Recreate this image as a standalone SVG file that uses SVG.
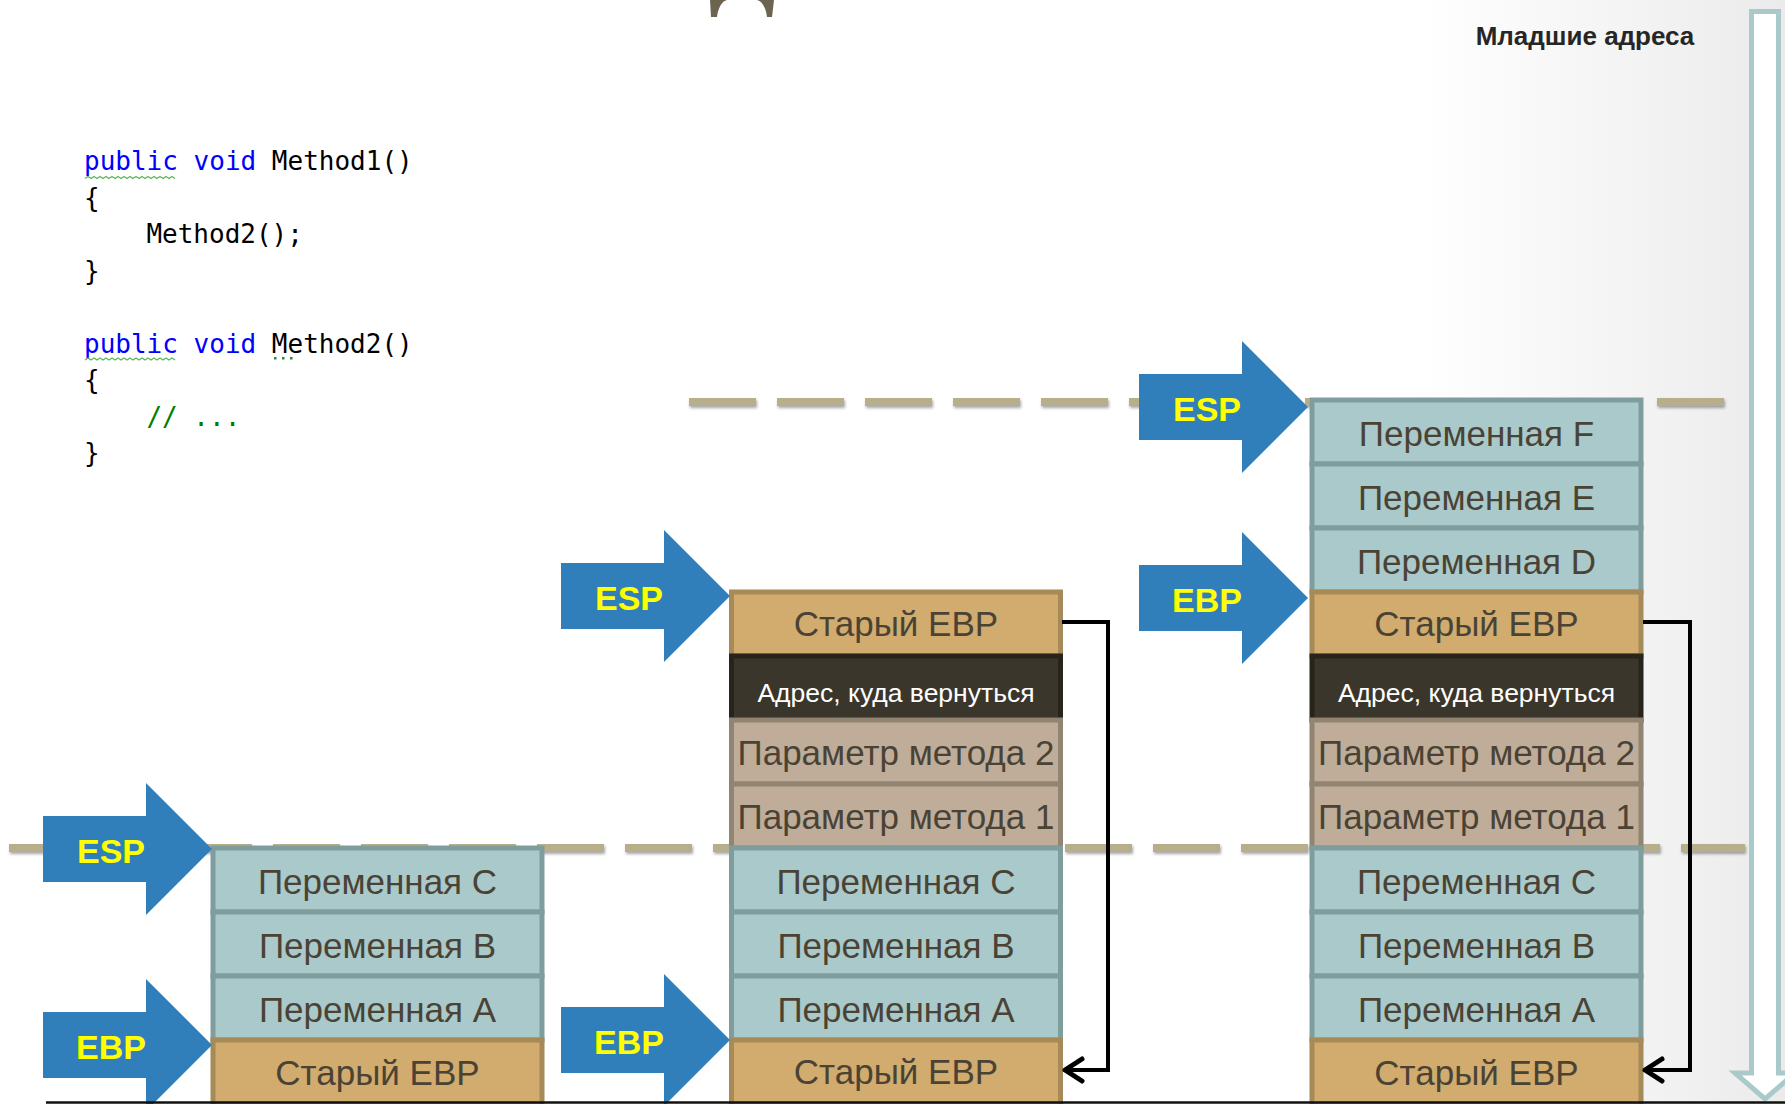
<svg xmlns="http://www.w3.org/2000/svg" width="1785" height="1104" viewBox="0 0 1785 1104">
  <defs>
    <linearGradient id="bgShade" gradientUnits="userSpaceOnUse" x1="1420" y1="0" x2="1785" y2="0">
      <stop offset="0" stop-color="#ffffff"/>
      <stop offset="1" stop-color="#ebebeb"/>
    </linearGradient>
    <filter id="softShadow" filterUnits="userSpaceOnUse" x="0" y="0" width="1785" height="1104">
      <feDropShadow dx="1" dy="2" stdDeviation="1.5" flood-color="#000" flood-opacity="0.35"/>
    </filter>
    <!-- block pointer, tip at the origin -->
    <path id="ptr" d="M-169,-33 H-66 V-66 L0,0 L-66,66 V33 H-169 Z"/>
    <marker id="chev" markerUnits="userSpaceOnUse" markerWidth="30" markerHeight="30" viewBox="0 0 30 30" refX="25" refY="15" orient="auto">
      <path d="M8,4 L25,15 L8,26" fill="none" stroke="#000" stroke-width="5" stroke-linejoin="round" stroke-linecap="round"/>
    </marker>
    <style>
      .dash { fill: none; stroke: #B7AF8C; stroke-width: 8; stroke-dasharray: 67 21; }
      .cv { fill: #AAC9CA; stroke: #809D9E; stroke-width: 5; }
      .ce { fill: #D1AC6E; stroke: #A68A57; stroke-width: 5; }
      .cr { fill: #3A362B; stroke: #28241C; stroke-width: 5; }
      .cp { fill: #BFAD99; stroke: #918473; stroke-width: 5; }
      .tl { font-family: "Liberation Sans", Arial, sans-serif; font-size: 35px; fill: #4A4335; text-anchor: middle; }
      .tr { font-family: "Liberation Sans", Arial, sans-serif; font-size: 26.5px; fill: #FFFFFF; text-anchor: middle; }
      .ptr { fill: #307FBA; }
      .reg { font-family: "Liberation Sans", Arial, sans-serif; font-size: 34px; font-weight: bold; fill: #FFFF00; text-anchor: middle; }
      .code { font-family: "DejaVu Sans Mono", "Liberation Mono", monospace; font-size: 26px; fill: #000; white-space: pre; }
      .kw { fill: #0000FF; }
      .cm { fill: #008000; }
      .squig { fill: none; stroke: #5FB45F; stroke-width: 1.3; }
      .link { fill: none; stroke: #000; stroke-width: 4; marker-end: url(#chev); }
    </style>
  </defs>

  <!-- background -->
  <rect x="0" y="0" width="1785" height="1104" fill="#ffffff"/>
  <rect x="1420" y="0" width="365" height="1104" fill="url(#bgShade)"/>

  <!-- partial arch at the top edge -->
  <path id="top-arch" d="M711,17 L710,0 L774,0 L772,17 L767,17 C766,8 762,1 757,0 L727,0 C722,1 718,8 717,17 Z" fill="#6B6450"/>

  <!-- frame boundary guides -->
  <g id="guides" filter="url(#softShadow)">
    <line class="dash" x1="689" y1="402" x2="1724" y2="402"/>
    <line class="dash" x1="9" y1="848" x2="1745" y2="848"/>
  </g>

  <!-- stack before the call -->
  <g id="stack-1">
    <g id="s1-var-c"><rect class="cv" x="213" y="848" width="329" height="64"/><text class="tl" x="377.5" y="894">Переменная C</text></g>
    <g id="s1-var-b"><rect class="cv" x="213" y="912" width="329" height="64"/><text class="tl" x="377.5" y="958">Переменная B</text></g>
    <g id="s1-var-a"><rect class="cv" x="213" y="976" width="329" height="64"/><text class="tl" x="377.5" y="1022">Переменная A</text></g>
    <g id="s1-old-ebp"><rect class="ce" x="213" y="1040" width="329" height="70"/><text class="tl" x="377.5" y="1085">Старый EBP</text></g>
  </g>

  <!-- stack after pushing the call frame -->
  <g id="stack-2">
    <g id="s2-old-ebp-top"><rect class="ce" x="731.5" y="592" width="329" height="64"/><text class="tl" x="896" y="636">Старый EBP</text></g>
    <g id="s2-ret"><rect class="cr" x="731.5" y="656" width="329" height="64"/><text class="tr" x="896" y="702">Адрес, куда вернуться</text></g>
    <g id="s2-param-2"><rect class="cp" x="731.5" y="720" width="329" height="64"/><text class="tl" x="896" y="765">Параметр метода 2</text></g>
    <g id="s2-param-1"><rect class="cp" x="731.5" y="784" width="329" height="64"/><text class="tl" x="896" y="829">Параметр метода 1</text></g>
    <g id="s2-var-c"><rect class="cv" x="731.5" y="848" width="329" height="64"/><text class="tl" x="896" y="894">Переменная C</text></g>
    <g id="s2-var-b"><rect class="cv" x="731.5" y="912" width="329" height="64"/><text class="tl" x="896" y="958">Переменная B</text></g>
    <g id="s2-var-a"><rect class="cv" x="731.5" y="976" width="329" height="64"/><text class="tl" x="896" y="1022">Переменная A</text></g>
    <g id="s2-old-ebp"><rect class="ce" x="731.5" y="1040" width="329" height="70"/><text class="tl" x="896" y="1084">Старый EBP</text></g>
  </g>

  <!-- stack inside Method2 -->
  <g id="stack-3">
    <g id="s3-var-f"><rect class="cv" x="1312" y="400" width="329" height="64"/><text class="tl" x="1476.5" y="446">Переменная F</text></g>
    <g id="s3-var-e"><rect class="cv" x="1312" y="464" width="329" height="64"/><text class="tl" x="1476.5" y="510">Переменная E</text></g>
    <g id="s3-var-d"><rect class="cv" x="1312" y="528" width="329" height="64"/><text class="tl" x="1476.5" y="574">Переменная D</text></g>
    <g id="s3-old-ebp-top"><rect class="ce" x="1312" y="592" width="329" height="64"/><text class="tl" x="1476.5" y="636">Старый EBP</text></g>
    <g id="s3-ret"><rect class="cr" x="1312" y="656" width="329" height="64"/><text class="tr" x="1476.5" y="702">Адрес, куда вернуться</text></g>
    <g id="s3-param-2"><rect class="cp" x="1312" y="720" width="329" height="64"/><text class="tl" x="1476.5" y="765">Параметр метода 2</text></g>
    <g id="s3-param-1"><rect class="cp" x="1312" y="784" width="329" height="64"/><text class="tl" x="1476.5" y="829">Параметр метода 1</text></g>
    <g id="s3-var-c"><rect class="cv" x="1312" y="848" width="329" height="64"/><text class="tl" x="1476.5" y="894">Переменная C</text></g>
    <g id="s3-var-b"><rect class="cv" x="1312" y="912" width="329" height="64"/><text class="tl" x="1476.5" y="958">Переменная B</text></g>
    <g id="s3-var-a"><rect class="cv" x="1312" y="976" width="329" height="64"/><text class="tl" x="1476.5" y="1022">Переменная A</text></g>
    <g id="s3-old-ebp"><rect class="ce" x="1312" y="1040" width="329" height="70"/><text class="tl" x="1476.5" y="1085">Старый EBP</text></g>
  </g>

  <!-- register pointers -->
  <g id="esp-1"><use href="#ptr" class="ptr" transform="translate(212,849)"/><text class="reg" x="111" y="863">ESP</text></g>
  <g id="ebp-1"><use href="#ptr" class="ptr" transform="translate(212,1045)"/><text class="reg" x="111" y="1059">EBP</text></g>
  <g id="esp-2"><use href="#ptr" class="ptr" transform="translate(730,596)"/><text class="reg" x="629" y="610">ESP</text></g>
  <g id="ebp-2"><use href="#ptr" class="ptr" transform="translate(730,1040)"/><text class="reg" x="629" y="1054">EBP</text></g>
  <g id="esp-3"><use href="#ptr" class="ptr" transform="translate(1308,407)"/><text class="reg" x="1207" y="421">ESP</text></g>
  <g id="ebp-3"><use href="#ptr" class="ptr" transform="translate(1308,598)"/><text class="reg" x="1207" y="612">EBP</text></g>

  <!-- saved EBP links -->
  <g id="connectors">
    <path class="link" d="M1062,622 H1108 V1070 H1065"/>
    <path class="link" d="M1643,622 H1690 V1070 H1645"/>
  </g>

  <!-- address direction arrow -->
  <path id="addr-arrow" d="M1751.5,11.5 V1073 H1735 L1765,1099 L1795,1073 H1778.5 V11.5 Z" fill="#ffffff" stroke="#A9C9CA" stroke-width="5"/>

  <!-- baseline -->
  <line id="baseline" x1="46" y1="1102.5" x2="1785" y2="1102.5" stroke="#111" stroke-width="2.5"/>

  <g id="addr-label">
    <text x="1585" y="45" font-family="'Liberation Sans', Arial, sans-serif" font-size="26" font-weight="bold" fill="#262626" text-anchor="middle">Младшие адреса</text>
  </g>

  <!-- source code -->
  <g id="code">
    <text class="code" x="84" y="170"><tspan class="kw">public</tspan> <tspan class="kw">void</tspan> Method1()</text>
    <text class="code" x="84" y="206.5">{</text>
    <text class="code" x="146.4" y="243">Method2();</text>
    <text class="code" x="84" y="279.5">}</text>
    <text class="code" x="84" y="352.5"><tspan class="kw">public</tspan> <tspan class="kw">void</tspan> Method2()</text>
    <text class="code" x="84" y="389">{</text>
    <text class="code" x="146.4" y="425.5"><tspan class="cm">// ...</tspan></text>
    <text class="code" x="84" y="462">}</text>
    <path class="squig" d="M85,178.5 l3,-2 l3,2 l3,-2 l3,2 l3,-2 l3,2 l3,-2 l3,2 l3,-2 l3,2 l3,-2 l3,2 l3,-2 l3,2 l3,-2 l3,2 l3,-2 l3,2 l3,-2 l3,2 l3,-2 l3,2 l3,-2 l3,2 l3,-2 l3,2 l3,-2 l3,2 l3,-2 l3,2"/>
    <path class="squig" d="M85,360 l3,-2 l3,2 l3,-2 l3,2 l3,-2 l3,2 l3,-2 l3,2 l3,-2 l3,2 l3,-2 l3,2 l3,-2 l3,2 l3,-2 l3,2 l3,-2 l3,2 l3,-2 l3,2 l3,-2 l3,2 l3,-2 l3,2 l3,-2 l3,2 l3,-2 l3,2 l3,-2 l3,2"/>
    <g fill="#2C8A2C">
      <rect x="274" y="357" width="2.5" height="2.5"/>
      <rect x="282" y="357" width="2.5" height="2.5"/>
      <rect x="290" y="357" width="2.5" height="2.5"/>
    </g>
  </g>
</svg>
